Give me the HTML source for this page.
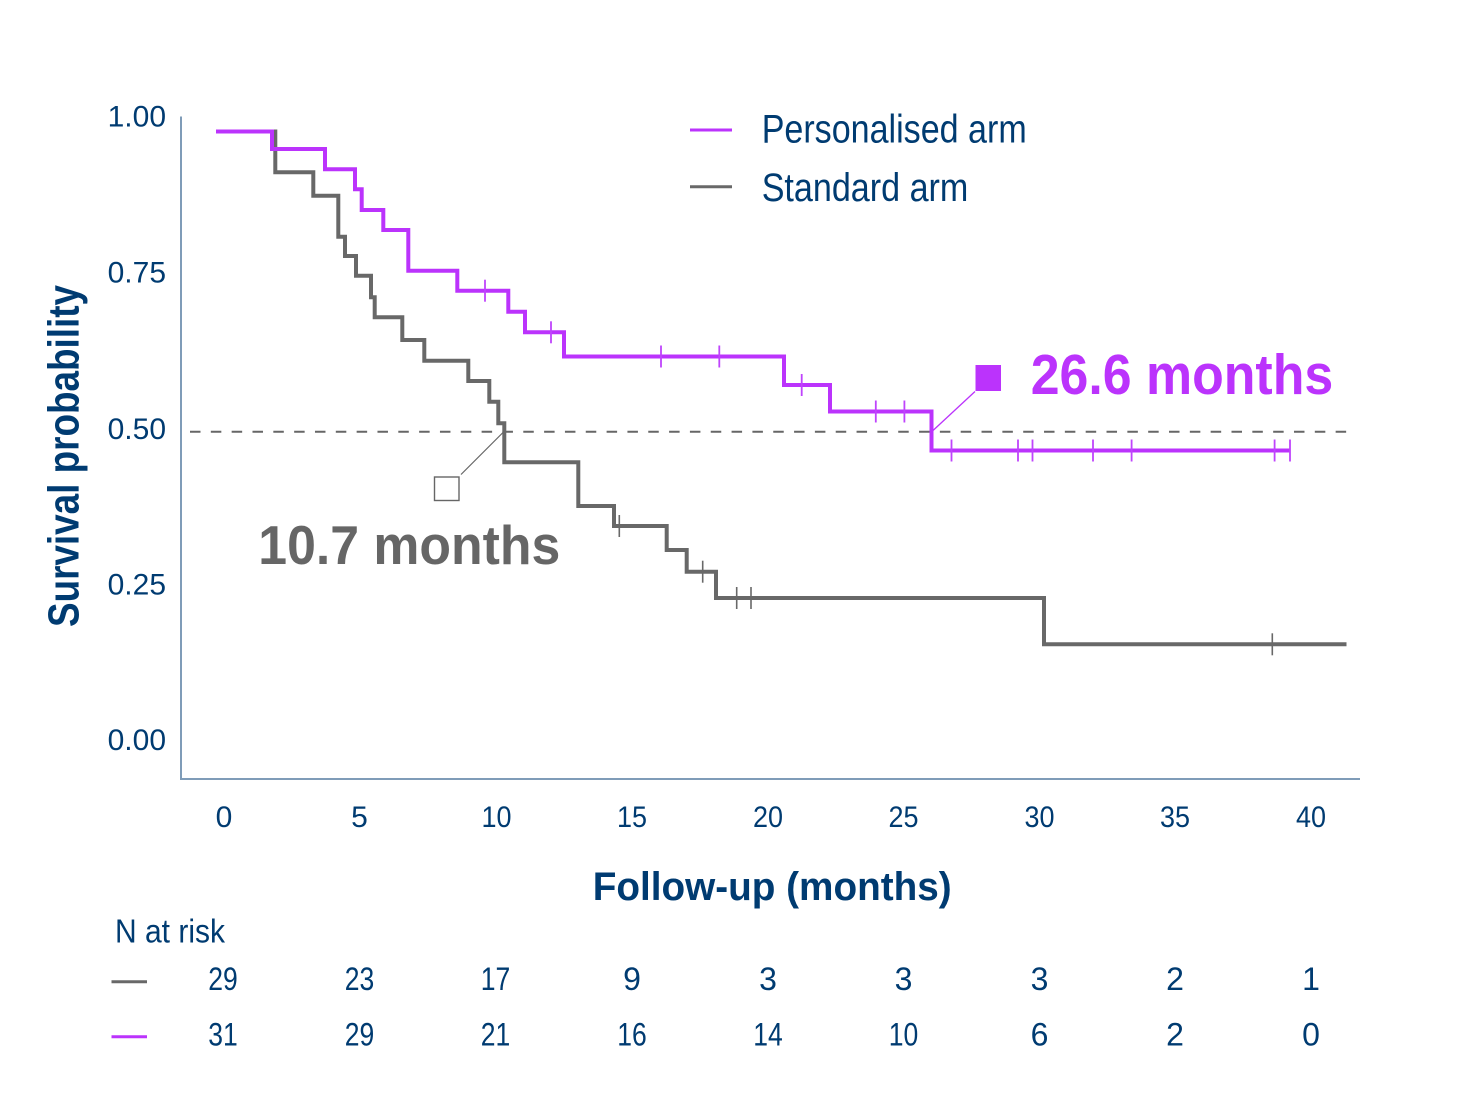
<!DOCTYPE html>
<html>
<head>
<meta charset="utf-8">
<style>
  html, body { margin: 0; padding: 0; background: #ffffff; }
  svg { display: block; }
  text { font-family: "Liberation Sans", "DejaVu Sans", sans-serif; }
</style>
</head>
<body>
<svg width="1459" height="1094" viewBox="0 0 1459 1094" xmlns="http://www.w3.org/2000/svg">
  <rect x="0" y="0" width="1459" height="1094" fill="#ffffff"/>

  <!-- Axes -->
  <line x1="181" y1="116.5" x2="181" y2="779" stroke="#7f9cb8" stroke-width="2"/>
  <line x1="180" y1="779" x2="1360" y2="779" stroke="#7f9cb8" stroke-width="2"/>

  <!-- Y tick labels -->
  <g fill="#003b71" font-size="30" text-anchor="end">
    <text x="166" y="126.5">1.00</text>
    <text x="166" y="282.5">0.75</text>
    <text x="166" y="439">0.50</text>
    <text x="166" y="594.5">0.25</text>
    <text x="166" y="750">0.00</text>
  </g>

  <!-- X tick labels -->
  <g fill="#003b71" font-size="30" text-anchor="middle">
    <text x="224" y="827">0</text>
    <text x="359.5" y="827">5</text>
    <text x="496.5" y="827" textLength="30" lengthAdjust="spacingAndGlyphs">10</text>
    <text x="632" y="827" textLength="30" lengthAdjust="spacingAndGlyphs">15</text>
    <text x="768" y="827" textLength="30" lengthAdjust="spacingAndGlyphs">20</text>
    <text x="903.5" y="827" textLength="30" lengthAdjust="spacingAndGlyphs">25</text>
    <text x="1039.5" y="827" textLength="30" lengthAdjust="spacingAndGlyphs">30</text>
    <text x="1175" y="827" textLength="30" lengthAdjust="spacingAndGlyphs">35</text>
    <text x="1311" y="827" textLength="30" lengthAdjust="spacingAndGlyphs">40</text>
  </g>

  <!-- Axis titles -->
  <text x="592.7" y="900" fill="#003b71" font-size="40" font-weight="bold" textLength="359" lengthAdjust="spacingAndGlyphs">Follow-up (months)</text>
  <text transform="translate(78.5,627) rotate(-90)" x="0" y="0" fill="#003b71" font-size="44" font-weight="bold" textLength="342" lengthAdjust="spacingAndGlyphs">Survival probability</text>

  <!-- Median dashed line -->
  <line x1="190" y1="431.7" x2="1347" y2="431.7" stroke="#666666" stroke-width="2" stroke-dasharray="10.5 10.33"/>

  <!-- Standard arm curve -->
  <path d="M216,131.5 H275.3 V172.3 H313.3 V195.7 H338.3 V236.7 H345 V256 H356 V275.7 H371 V297.3 H374.7 V317.3 H402.3 V340 H424.3 V360.7 H468.3 V381 H489.3 V401.7 H498.3 V423.3 H504.3 V462.3 H578.3 V506 H614 V526 H666.7 V550 H686.7 V571.7 H716 V598 H1044 V644.3 H1346.5"
        fill="none" stroke="#686868" stroke-width="4" stroke-linejoin="miter"/>
  <g stroke="#686868" stroke-width="1.6">
    <line x1="619.3" y1="515" x2="619.3" y2="537"/>
    <line x1="702.7" y1="560.7" x2="702.7" y2="582.7"/>
    <line x1="736.7" y1="587" x2="736.7" y2="609"/>
    <line x1="751" y1="587" x2="751" y2="609"/>
    <line x1="1272.3" y1="633.3" x2="1272.3" y2="655.3"/>
  </g>

  <!-- Personalised arm curve -->
  <path d="M216,131.5 H272 V149 H325 V169.3 H355 V189.3 H361.7 V210 H383.3 V230 H408.3 V270.7 H457.3 V290.7 H508.3 V311.7 H525 V332.3 H564 V356.5 H784 V385 H830 V411.5 H931.5 V450.5 H1290"
        fill="none" stroke="#bb33fc" stroke-width="4" stroke-linejoin="miter"/>
  <g stroke="#bf44fc" stroke-width="1.8">
    <line x1="485" y1="279.7" x2="485" y2="301.7"/>
    <line x1="551" y1="321.3" x2="551" y2="343.3"/>
    <line x1="661" y1="345.5" x2="661" y2="367.5"/>
    <line x1="719.3" y1="345.5" x2="719.3" y2="367.5"/>
    <line x1="801.7" y1="374" x2="801.7" y2="396"/>
    <line x1="875.8" y1="400.5" x2="875.8" y2="422.5"/>
    <line x1="904.4" y1="400.5" x2="904.4" y2="422.5"/>
    <line x1="951.5" y1="439.5" x2="951.5" y2="461.5"/>
    <line x1="1018" y1="439.5" x2="1018" y2="461.5"/>
    <line x1="1032.5" y1="439.5" x2="1032.5" y2="461.5"/>
    <line x1="1093" y1="439.5" x2="1093" y2="461.5"/>
    <line x1="1131.6" y1="439.5" x2="1131.6" y2="461.5"/>
    <line x1="1274.6" y1="439.5" x2="1274.6" y2="461.5"/>
    <line x1="1290" y1="439.5" x2="1290" y2="461.5"/>
  </g>

  <!-- Standard median annotation -->
  <line x1="504" y1="431.5" x2="461" y2="474.5" stroke="#666666" stroke-width="1.2"/>
  <rect x="434.5" y="477" width="24.5" height="23.5" fill="#ffffff" stroke="#666666" stroke-width="1.4"/>
  <text x="258.3" y="564" fill="#666666" font-size="55" font-weight="bold" textLength="302" lengthAdjust="spacingAndGlyphs">10.7 months</text>

  <!-- Personalised median annotation -->
  <line x1="933" y1="430.5" x2="975" y2="391.5" stroke="#bb33fc" stroke-width="1.3"/>
  <rect x="975.5" y="365" width="25.5" height="26" fill="#bb33fc"/>
  <text x="1030.7" y="394" fill="#bb33fc" font-size="57" font-weight="bold" textLength="302.5" lengthAdjust="spacingAndGlyphs">26.6 months</text>

  <!-- Legend -->
  <line x1="690" y1="130" x2="732" y2="130" stroke="#bb33fc" stroke-width="3"/>
  <line x1="690" y1="186.7" x2="732" y2="186.7" stroke="#686868" stroke-width="3"/>
  <text x="761.7" y="142.7" fill="#003b71" font-size="40" textLength="265" lengthAdjust="spacingAndGlyphs">Personalised arm</text>
  <text x="761.7" y="201" fill="#003b71" font-size="40" textLength="206.6" lengthAdjust="spacingAndGlyphs">Standard arm</text>

  <!-- N at risk -->
  <text x="115" y="942.7" fill="#003b71" font-size="33" textLength="110" lengthAdjust="spacingAndGlyphs">N at risk</text>
  <line x1="111.5" y1="981.7" x2="147" y2="981.7" stroke="#686868" stroke-width="3"/>
  <line x1="111.5" y1="1036.7" x2="147" y2="1036.7" stroke="#bb33fc" stroke-width="3"/>

  <g fill="#003b71" font-size="32" text-anchor="middle">
    <text x="223" y="990" textLength="29.5" lengthAdjust="spacingAndGlyphs">29</text>
    <text x="359.5" y="990" textLength="29.5" lengthAdjust="spacingAndGlyphs">23</text>
    <text x="495.5" y="990" textLength="29.5" lengthAdjust="spacingAndGlyphs">17</text>
    <text x="632" y="990">9</text>
    <text x="768" y="990">3</text>
    <text x="903.5" y="990">3</text>
    <text x="1039.5" y="990">3</text>
    <text x="1175" y="990">2</text>
    <text x="1311" y="990">1</text>

    <text x="223" y="1045.7" textLength="29.5" lengthAdjust="spacingAndGlyphs">31</text>
    <text x="359.5" y="1045.7" textLength="29.5" lengthAdjust="spacingAndGlyphs">29</text>
    <text x="495.5" y="1045.7" textLength="29.5" lengthAdjust="spacingAndGlyphs">21</text>
    <text x="632" y="1045.7" textLength="29.5" lengthAdjust="spacingAndGlyphs">16</text>
    <text x="768" y="1045.7" textLength="29.5" lengthAdjust="spacingAndGlyphs">14</text>
    <text x="903.5" y="1045.7" textLength="29.5" lengthAdjust="spacingAndGlyphs">10</text>
    <text x="1039.5" y="1045.7">6</text>
    <text x="1175" y="1045.7">2</text>
    <text x="1311" y="1045.7">0</text>
  </g>
</svg>
</body>
</html>
